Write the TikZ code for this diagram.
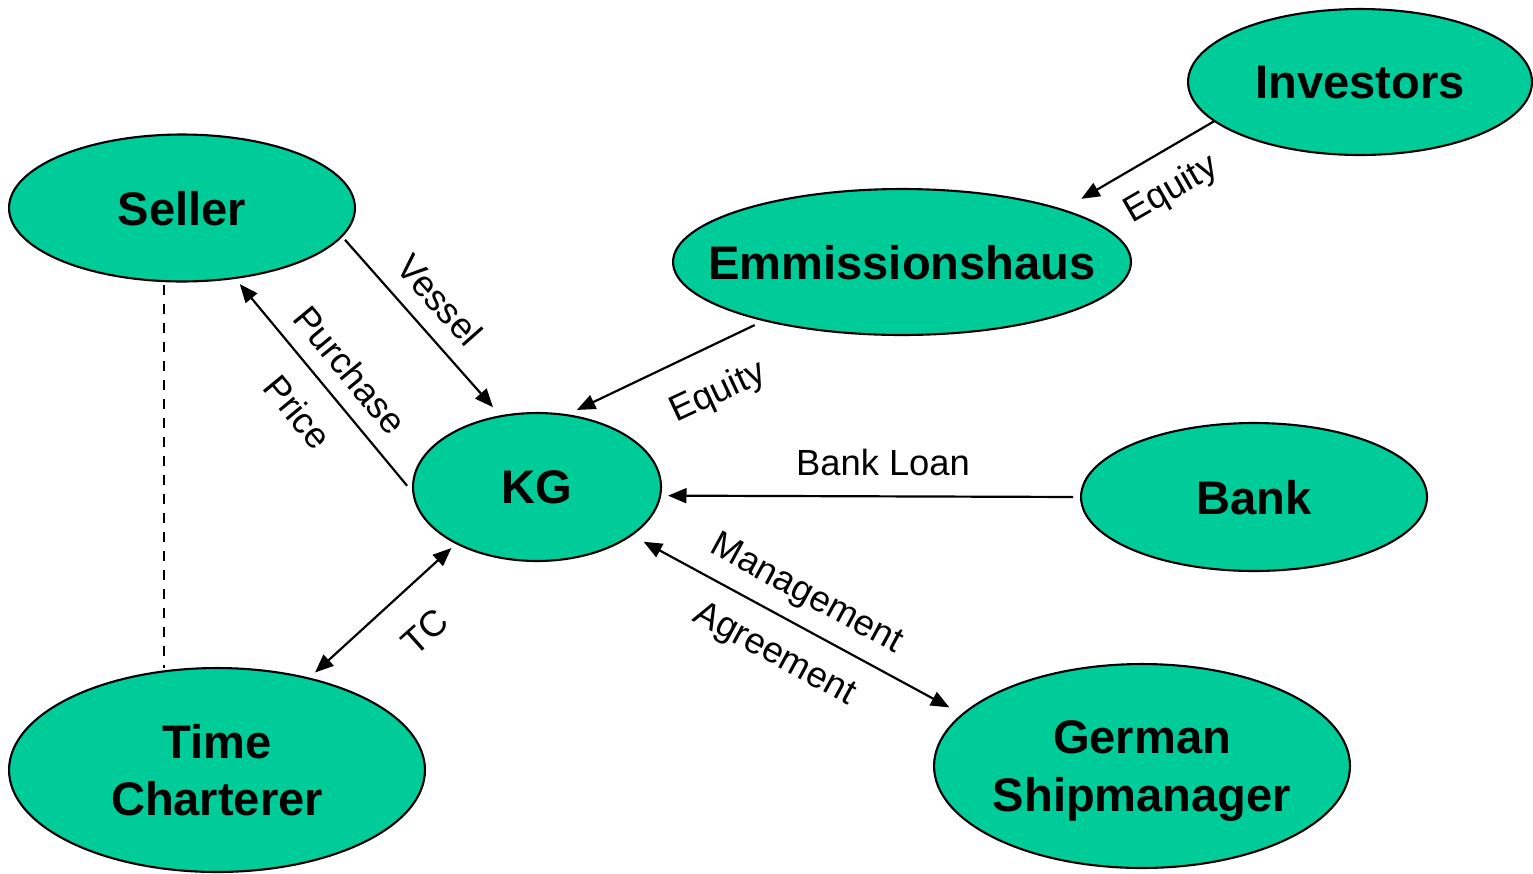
\documentclass[tikz,border=0pt]{standalone}
\usepackage{fontspec}
\setmainfont{Liberation Sans}
\usetikzlibrary{shapes.geometric,arrows.meta}
\definecolor{tealfill}{HTML}{00CC99}
\newcommand{\zb}[1]{\makebox[0pt]{#1}}
\tikzset{
  ent/.style={ellipse, draw=black, line width=1.2pt, fill=tealfill, inner sep=0pt, outer sep=0pt,
    font=\fontsize{26.8}{32.6}\selectfont\bfseries, align=center, text depth=0pt},
  flow/.style={line width=1.25pt, -{Triangle[length=10.5pt,width=8.5pt]}},
  both/.style={line width=1.25pt, {Triangle[length=10.5pt,width=8.5pt]}-{Triangle[length=10.5pt,width=8.5pt]}},
  lab/.style={font=\fontsize{20.7}{24}\selectfont, inner sep=0pt},
  tie/.style={line width=1.2pt, dash pattern=on 5.7pt off 5.1pt},
}
\begin{document}
\begin{tikzpicture}[x=0.02cm,y=-0.02cm]
\useasboundingbox (0,0) rectangle (1533,873);
% entities
\node[ent, minimum width=6.88cm, minimum height=2.92cm] (inv) at (1360,82) {\zb{Investors}};
\node[ent, minimum width=6.92cm, minimum height=2.94cm] (seller) at (182,208) {\zb{Seller}};
\node[ent, minimum width=9.16cm, minimum height=2.92cm] (emm) at (902,262) {\zb{Emmissionshaus}};
\node[ent, minimum width=4.96cm, minimum height=2.96cm] (kg) at (537,487) {\zb{KG}};
\node[ent, minimum width=6.92cm, minimum height=2.96cm] (bank) at (1254,497) {\zb{Bank}};
\node[ent, minimum width=8.32cm, minimum height=4.08cm] (tc) at (217,770) {\zb{Time}\\\zb{Charterer}};
\node[ent, minimum width=8.32cm, minimum height=4.08cm] (gsm) at (1142,766) {\zb{German}\\\zb{Shipmanager}};
% connectors
\draw[flow, shorten >=12.5pt] (inv.195) -- (emm.18.6);
\draw[flow, shorten <=6.2pt, shorten >=6.8pt] (emm.203.7) -- (kg.68);
\draw[flow, shorten <=2.8pt, shorten >=6.8pt] (seller.-10) -- (kg.117);
\draw[flow, shorten <=5.7pt, shorten >=4.5pt] (kg.183.7) -- (seller.-53.4);
\draw[flow, shorten <=4.5pt, shorten >=4.5pt] (bank.west) -- (kg.-4.6);
\draw[both, shorten <=4pt, shorten >=5pt] (kg.215.2) -- (tc.45.6);
\draw[both, shorten <=8pt, shorten >=8.5pt] (kg.-27.3) -- (gsm.164.4);
\draw[tie, shorten <=2.5pt] (seller.256.8) -- (seller.256.8 |- tc.north);
% labels
\node[lab, rotate=30] (l1) at (1172,190) {Equity};
\node[lab, rotate=25] (l2) at (718,393) {Equity};
\node[lab, rotate=-48.5] (l3) at (440,300) {Vessel};
\node[lab, rotate=-50.4] (l4) at (350,370) {Purchase};
\node[lab, rotate=-50.4] (l5) at (298,412) {Price};
\node[lab] (l6) at (883,462) {Bank Loan};
\node[lab, rotate=42] (l7) at (425,632) {TC};
\node[lab, rotate=-28.6] (l8) at (806,595) {Management};
\node[lab, rotate=-28.6] (l9) at (774,655) {Agreement};
\end{tikzpicture}
\end{document}
